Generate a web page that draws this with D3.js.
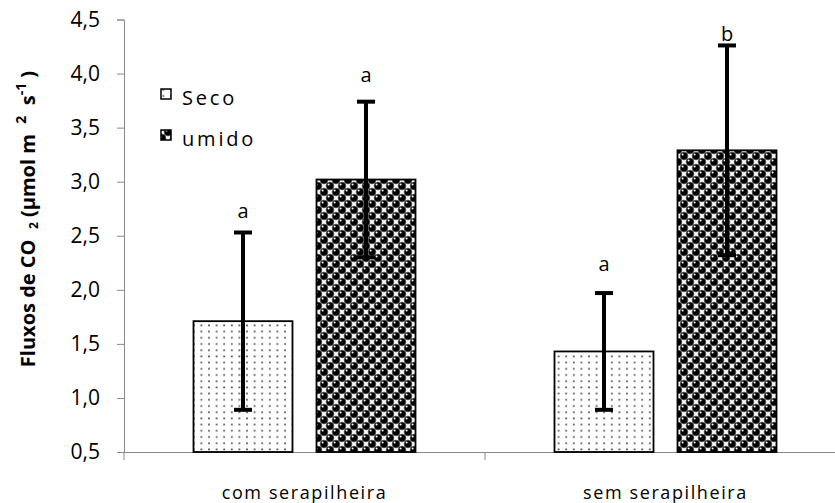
<!DOCTYPE html>
<html>
<head>
<meta charset="utf-8">
<script src="https://cdn.jsdelivr.net/npm/d3@7"></script>
<style>
  body { margin: 0; background: #fff; }
  svg { display: block; }
</style>
</head>
<body>
<div id="chart"></div>
<script>
const categories = ["com serapilheira", "sem serapilheira"];
const seriesNames = ["Seco", "umido"];
const seco = [1.71, 1.43];
const secoErr = [0.82, 0.54];
const umido = [3.02, 3.29];
const umidoErr = [0.72, 0.97];
const secoLetters = ["a", "a"];
const secoLetterAt = [2.66, 2.17];
const umidoLetters = ["a", "b"];
const umidoLetterAt = [3.92, 4.30];
const yTicks = [0.5, 1.0, 1.5, 2.0, 2.5, 3.0, 3.5, 4.0, 4.5];

const W = 835, H = 503;
const plotLeft = 124, plotRight = 846, plotTop = 19.5, plotBottom = 452;

const svg = d3.select("#chart").append("svg")
  .attr("width", W).attr("height", H);

const defs = svg.append("defs");

// dotted fill (Seco)
const pd = defs.append("pattern").attr("id", "dots")
  .attr("patternUnits", "userSpaceOnUse")
  .attr("width", 7.6).attr("height", 6.2);
pd.append("rect").attr("width", 7.6).attr("height", 6.2).attr("fill", "#fff");
pd.append("circle").attr("cx", 3.8).attr("cy", 3).attr("r", 0.9).attr("fill", "#444");

// spheres fill (umido)
const sp = 12;
const ps = defs.append("pattern").attr("id", "spheres")
  .attr("patternUnits", "userSpaceOnUse")
  .attr("width", sp).attr("height", sp);
ps.append("rect").attr("width", sp).attr("height", sp).attr("fill", "#fff");
[[0, 0], [sp, 0], [0, sp], [sp, sp], [sp / 2, sp / 2]].forEach(([cx, cy]) => {
  ps.append("circle").attr("cx", cx).attr("cy", cy).attr("r", 4.0)
    .attr("fill", "#000").attr("stroke", "#777").attr("stroke-width", 0.7);
  ps.append("circle").attr("cx", cx - 1.4).attr("cy", cy - 1.5).attr("r", 1.0)
    .attr("fill", "#fff");
});

const x = d3.scaleBand().domain(categories).range([plotLeft, plotRight]);
const y = d3.scaleLinear().domain([0.5, 4.5]).range([plotBottom, plotTop]);
const barW = 99, gap = 24;

const font = "'Open Sans', 'Noto Sans', sans-serif";

// y axis
const yAxis = svg.append("g")
  .attr("transform", `translate(${plotLeft},0)`)
  .call(d3.axisLeft(y).tickValues(yTicks).tickSize(7).tickPadding(17)
    .tickFormat(d => d3.format(".1f")(d).replace(".", ",")));
yAxis.select(".domain").attr("stroke", "#888");
yAxis.selectAll(".tick line").attr("stroke", "#888");
yAxis.selectAll(".tick text").attr("font-family", font).attr("font-size", 21)
  .attr("fill", "#000");

// x axis
const xAxis = svg.append("g")
  .attr("transform", `translate(0,${plotBottom})`)
  .call(d3.axisBottom(x).tickSize(0).tickFormat(""));
xAxis.select(".domain").attr("stroke", "#888");
xAxis.selectAll(".tick").remove();
svg.append("g").selectAll("line")
  .data([plotLeft, ...categories.slice(1).map(c => x(c))])
  .join("line")
  .attr("x1", d => d).attr("x2", d => d)
  .attr("y1", plotBottom).attr("y2", plotBottom + 8)
  .attr("stroke", "#888");

svg.append("g").selectAll("text")
  .data(categories).join("text")
  .attr("x", d => x(d) + x.bandwidth() / 2)
  .attr("y", 499)
  .attr("text-anchor", "middle")
  .attr("font-family", font).attr("font-size", 18)
  .attr("letter-spacing", 1.6)
  .attr("fill", "#000")
  .text(d => d);

// bars
const groups = [
  { vals: seco, errs: secoErr, letters: secoLetters, at: secoLetterAt, fill: "url(#dots)", off: -gap / 2 - barW },
  { vals: umido, errs: umidoErr, letters: umidoLetters, at: umidoLetterAt, fill: "url(#spheres)", off: gap / 2 }
];

groups.forEach(g => {
  const cx = (c) => x(c) + x.bandwidth() / 2 + g.off;
  svg.append("g").selectAll("rect")
    .data(categories).join("rect")
    .attr("x", d => cx(d))
    .attr("y", (d, i) => y(g.vals[i]))
    .attr("width", barW)
    .attr("height", (d, i) => plotBottom - y(g.vals[i]))
    .attr("fill", g.fill)
    .attr("stroke", "#000").attr("stroke-width", 1.8);

  const eb = svg.append("g").attr("stroke", "#000").attr("stroke-width", 4);
  categories.forEach((c, i) => {
    const mx = cx(c) + barW / 2;
    const hi = y(g.vals[i] + g.errs[i]);
    const lo = y(g.vals[i] - g.errs[i]);
    eb.append("line").attr("x1", mx).attr("x2", mx).attr("y1", hi).attr("y2", lo);
    eb.append("line").attr("x1", mx - 9).attr("x2", mx + 9).attr("y1", hi).attr("y2", hi);
    eb.append("line").attr("x1", mx - 9).attr("x2", mx + 9).attr("y1", lo).attr("y2", lo);
    svg.append("text")
      .attr("x", mx).attr("y", y(g.at[i]))
      .attr("text-anchor", "middle")
      .attr("font-family", font).attr("font-size", 20)
      .attr("fill", "#000")
      .text(g.letters[i]);
  });
});

// legend
const leg = svg.append("g");
seriesNames.forEach((name, i) => {
  const ly = 89 + i * 41;
  leg.append("rect").attr("x", 161).attr("y", ly).attr("width", 10).attr("height", 10)
    .attr("fill", i === 0 ? "url(#dots)" : "url(#spheres)")
    .attr("stroke", "#000").attr("stroke-width", 1.5);
  leg.append("text").attr("x", 182).attr("y", ly + 16)
    .attr("font-family", font).attr("font-size", 20)
    .attr("letter-spacing", 2.8).attr("fill", "#000")
    .text(name);
});

// y title
const nb = "\u00a0";
const yt = svg.append("text")
  .attr("transform", "translate(35,219) rotate(-90)")
  .attr("text-anchor", "middle")
  .attr("font-family", font).attr("font-size", 20).attr("font-weight", "bold")
  .attr("fill", "#000");
yt.append("tspan").text("Fluxos de CO" + nb + nb);
yt.append("tspan").attr("font-size", 12).attr("dy", 3).text("2");
yt.append("tspan").attr("dy", -3).text(nb + "(µmol m" + nb + nb);
yt.append("tspan").attr("font-size", 14).attr("dy", -9).text("2");
yt.append("tspan").attr("dy", 9).text(nb + nb + "s");
yt.append("tspan").attr("font-size", 14).attr("dy", -9).text("-1");
yt.append("tspan").attr("dy", 9).text(nb + ")");
</script>
</body>
</html>
